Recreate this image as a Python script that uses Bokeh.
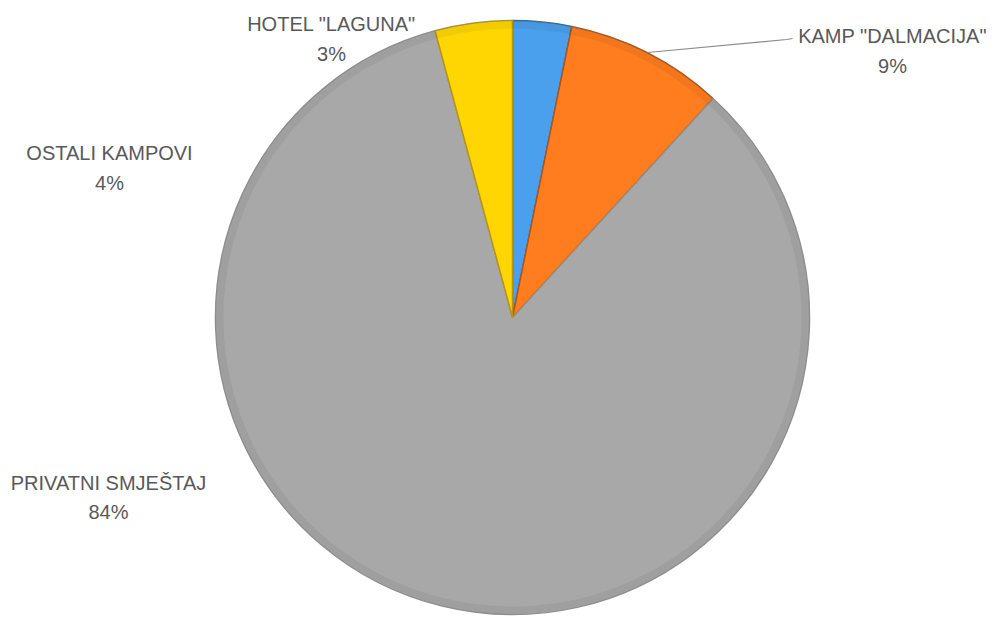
import math
from bokeh.plotting import figure
from bokeh.models import Range1d, ColumnDataSource
from bokeh.core.properties import value
from bokeh.embed import file_html
from bokeh.resources import INLINE

# Data (clockwise from 12 o'clock)
categories = ['HOTEL "LAGUNA"', 'KAMP "DALMACIJA"', 'PRIVATNI SMJEŠTAJ', 'OSTALI KAMPOVI']
shares = [3.2, 8.6, 84.0, 4.2]
pct_labels = ["3%", "9%", "84%", "4%"]
colors = ["#4AA0EC", "#FF7D1E", "#A8A8A8", "#FFD602"]
edge_colors = ["#2F6FA8", "#B8520C", "#8E8E8E", "#B8960A"]

W, H = 1000, 619
p = figure(width=W, height=H, output_backend="svg", toolbar_location=None,
           x_range=Range1d(0, W), y_range=Range1d(0, H),
           min_border=0, outline_line_color=None)
p.axis.visible = False
p.grid.visible = False
p.background_fill_color = "white"

cx, cy, r = 512, 619 - 317, 297

total = sum(shares)
starts, ends = [], []
a = math.pi / 2
for s in shares:
    starts.append(a)
    a -= 2 * math.pi * s / total
    ends.append(a)

src = ColumnDataSource(dict(start=starts, end=ends, color=colors, edge=edge_colors))
p.wedge(x=cx, y=cy, radius=r, start_angle="start", end_angle="end", direction="clock",
        fill_color="color", line_color="edge", line_width=1.5, source=src)
# subtle rim shading
p.annular_wedge(x=cx, y=cy, inner_radius=r - 8, outer_radius=r - 1, start_angle="start",
                end_angle="end", direction="clock", fill_color="black", fill_alpha=0.05,
                line_color=None, source=src)

# labels
lab_x = [331, 892, 108, 109]
lab_y = [619 - 23, 619 - 35, 619 - 482, 619 - 152]
gap = [30, 30, 29, 30]
for name, pct, x, y, g in zip(categories, pct_labels, lab_x, lab_y, gap):
    p.text(x=[x], y=[y], text=[name], text_align="center", text_baseline="middle",
           text_font=value("Liberation Sans"), text_font_size="20px", text_color="#595959")
    p.text(x=[x], y=[y - g], text=[pct], text_align="center", text_baseline="middle",
           text_font=value("Liberation Sans"), text_font_size="20px", text_color="#595959")

# leader line for KAMP "DALMACIJA"
p.line(x=[647, 786, 792], y=[619 - 52, 619 - 39, 619 - 38], line_color="#8C8C8C", line_width=1.2)

open("out.html", "w").write(file_html(p, INLINE))
